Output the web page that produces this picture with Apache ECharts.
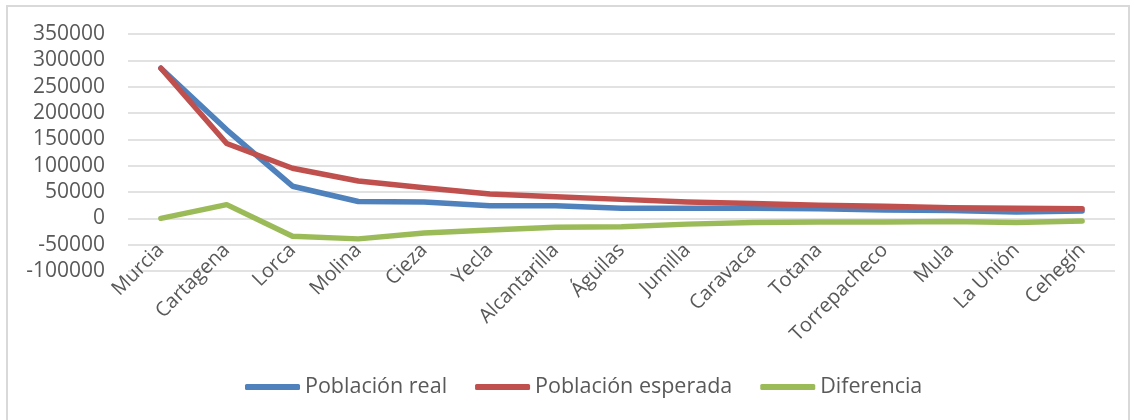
<!DOCTYPE html>
<html>
<head>
<meta charset="utf-8">
<script src="https://cdn.jsdelivr.net/npm/echarts@6/dist/echarts.min.js"></script>
<style>
  html, body { margin: 0; padding: 0; background: #fff; }
  #frame {
    position: absolute; left: 6px; top: 5px; width: 1124px; height: 420px;
    border: 2px solid #d9d9d9; border-bottom: none; box-sizing: border-box;
  }
  #chart { position: absolute; left: 0; top: 0; width: 1134px; height: 420px; }
</style>
</head>
<body>
<div id="frame"></div>
<div id="chart"></div>
<script>
// municipalities on the x axis
const municipios = ['Murcia', 'Cartagena', 'Lorca', 'Molina', 'Cieza', 'Yecla', 'Alcantarilla', 'Águilas',
  'Jumilla', 'Caravaca', 'Totana', 'Torrepacheco', 'Mula', 'La Unión', 'Cehegín'];

// values
const poblacionReal = [285000, 168000, 61000, 32000, 31000, 24000, 24000, 19000, 19000, 19000, 18000, 16000, 15000, 12000, 14000];
const poblacionEsperada = [285000, 142000, 95000, 71000, 58000, 46000, 41000, 36000, 31000, 28000, 25000, 23000, 20000, 19000, 18000];
const diferencia = [0, 26000, -34000, -39000, -28000, -22000, -17000, -16000, -11000, -8000, -7000, -7000, -6000, -8000, -5000];

const font = "'Open Sans', sans-serif";
const textColor = '#595959';

const makeLine = (name, data, color) => ({
  name: name,
  type: 'line',
  data: data,
  symbol: 'none',
  smooth: false,
  lineStyle: { width: 5.5, color: color, cap: 'round', join: 'round' },
  itemStyle: { color: color },
  z: 3,
});

const chart = echarts.init(document.getElementById('chart'));
chart.setOption({
  animation: false,
  backgroundColor: 'transparent',
  grid: { left: 128, right: 19, top: 34, bottom: 149 },
  legend: {
    top: 371,
    left: 240,
    icon: 'roundRect',
    itemWidth: 55,
    itemHeight: 6,
    itemGap: 28,
    textStyle: { fontFamily: font, fontSize: 21.5, color: textColor },
    data: ['Población real', 'Población esperada', 'Diferencia'],
  },
  xAxis: {
    type: 'category',
    data: municipios,
    boundaryGap: true,
    axisLine: { show: false },
    axisTick: { show: false },
    axisLabel: {
      rotate: 45,
      margin: -24,
      interval: 0,
      fontFamily: font,
      fontSize: 20,
      color: textColor,
    },
  },
  yAxis: {
    type: 'value',
    min: -100000,
    max: 350000,
    interval: 50000,
    axisLine: { show: false },
    axisTick: { show: false },
    axisLabel: {
      margin: 23,
      fontFamily: font,
      fontSize: 21,
      color: textColor,
      formatter: (v) => String(v),
    },
    splitLine: { lineStyle: { color: '#d9d9d9', width: 1.5 } },
  },
  series: [
    makeLine('Población real', poblacionReal, '#4f81bd'),
    makeLine('Población esperada', poblacionEsperada, '#c0504d'),
    makeLine('Diferencia', diferencia, '#9bbb59'),
  ],
});
</script>
</body>
</html>
